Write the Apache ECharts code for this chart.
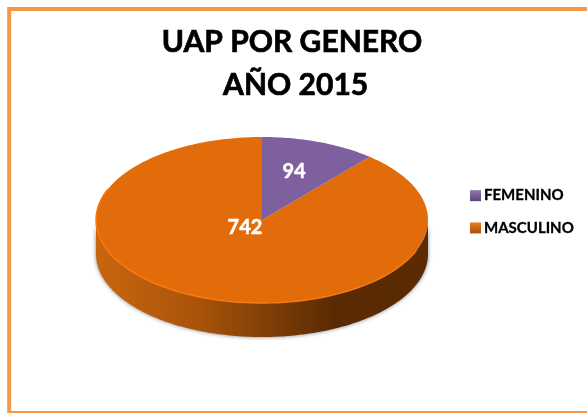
<!DOCTYPE html>
<html><head><meta charset="utf-8">
<style>html,body{margin:0;padding:0;background:#fff}#c{width:587px;height:413px}</style>
<script src="https://cdn.jsdelivr.net/npm/echarts@6/dist/echarts.min.js"></script>
</head><body><div id="c"></div>
<script>
const categories = ["FEMENINO", "MASCULINO"];
const values = [94, 742];
const colors = ["#7F609E", "#E26B0A"];
const titleLines = ["UAP POR GENERO", " AÑO 2015"];

const total = values.reduce((a, b) => a + b, 0);
const CX = 262, CY = 220, RX = 166, RY = 83, DEPTH = 34;
const pt = (a, d) => [CX + RX * Math.sin(a), CY - RY * Math.cos(a) + (d || 0)];
function sector(a0, a1) {
  const pts = [[CX, CY]];
  const n = Math.max(2, Math.ceil((a1 - a0) * 60));
  for (let i = 0; i <= n; i++) pts.push(pt(a0 + (a1 - a0) * i / n));
  return pts;
}
function wall() {
  const pts = [];
  for (let i = 0; i <= 180; i++) pts.push(pt(Math.PI / 2 + Math.PI * i / 180));
  for (let i = 180; i >= 0; i--) pts.push(pt(Math.PI / 2 + Math.PI * i / 180, DEPTH));
  return pts;
}
function rim(a0, a1) {
  const pts = [];
  for (let i = 0; i <= 80; i++) pts.push(pt(a0 + (a1 - a0) * i / 80));
  return pts;
}
let cum = 0;
const series = categories.map((name, idx) => {
  const start = cum; cum += values[idx];
  return {
    type: 'custom', name, coordinateSystem: 'none', silent: true,
    z: idx === 1 ? 2 : 3,
    itemStyle: { color: colors[idx] },
    data: [values[idx]],
    renderItem: (params, api) => {
      const a0 = start / total * 2 * Math.PI;
      const a1 = (start + api.value(0)) / total * 2 * Math.PI;
      const children = [];
      if (idx === 1) {
        children.push({ type: 'polygon', shape: { points: wall() }, style: {
          fill: new echarts.graphic.LinearGradient(0, 0, 1, 0, [
            { offset: 0, color: '#C9660E' }, { offset: 0.3, color: '#A9540A' },
            { offset: 0.72, color: '#592A03' }, { offset: 1, color: '#5B2B03' }]),
          shadowBlur: 4, shadowColor: 'rgba(60,80,100,0.7)' } });
      }
      children.push({ type: 'polygon', shape: { points: sector(a0, a1) }, style: { fill: colors[idx] } });
      if (idx === 1) {
        children.push({ type: 'polyline', shape: { points: rim(Math.PI * 0.62, Math.PI * 1.62) },
          style: { fill: 'none', stroke: '#F87A10', lineWidth: 1.5 } });
      }
      const labelPos = idx === 0 ? [294, 172] : [245, 228];
      children.push({ type: 'text', style: { text: String(api.value(0)), x: labelPos[0], y: labelPos[1],
        fill: '#fff', font: 'bold 20px Lato', align: 'center', verticalAlign: 'middle',
        stroke: '#fff', lineWidth: 0.5 } });
      return { type: 'group', children };
    }
  };
});

const grad = (a, b) => new echarts.graphic.LinearGradient(0, 0, 0, 1, [{ offset: 0, color: a }, { offset: 1, color: b }]);
const legendFills = [grad('#9078AE', '#5F4579'), grad('#E97C20', '#A9500A')];

const chart = echarts.init(document.getElementById('c'), null, { renderer: 'canvas' });
chart.setOption({
  animation: false,
  backgroundColor: '#fff',
  title: { text: titleLines.join('\n'), left: 287, top: 16, textAlign: 'center',
    textStyle: { fontFamily: 'Lato', fontWeight: 'bold', fontSize: 30, lineHeight: 43, color: '#000',
      textBorderColor: '#000', textBorderWidth: 0.7 } },
  legend: { orient: 'vertical', left: 470, top: 188, padding: 0, itemWidth: 11, itemHeight: 11, itemGap: 17,
    icon: 'rect', selectedMode: false,
    data: categories.map((name, i) => ({ name, itemStyle: { color: legendFills[i] } })),
    textStyle: { fontFamily: 'Lato', fontWeight: 'bold', fontSize: 15, color: '#000',
      textBorderColor: '#000', textBorderWidth: 0.3, padding: [0, 0, 0, -2] } },
  graphic: [{ type: 'rect', silent: true, z: 0,
    shape: { x: 9.2, y: 9, width: 700, height: 404 },
    style: { fill: 'none', stroke: '#F79646', lineWidth: 4 } }],
  series
});
</script></body></html>
